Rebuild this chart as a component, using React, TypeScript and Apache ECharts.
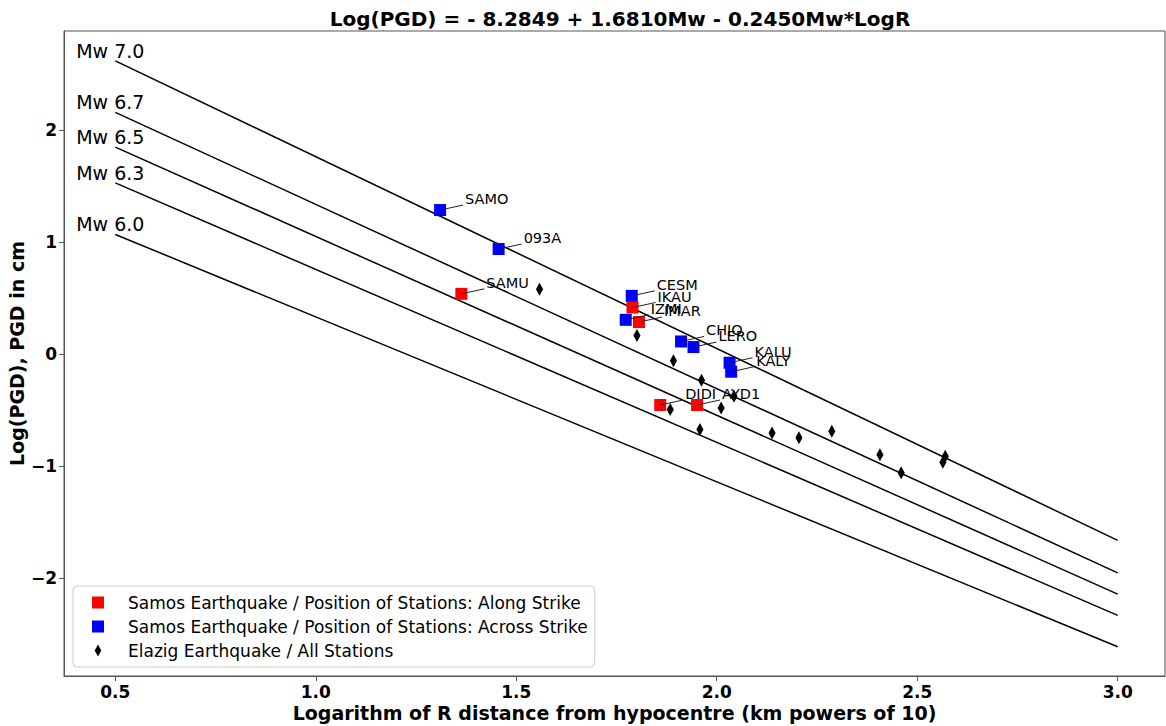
import React, { useEffect, useRef } from 'react';
import * as echarts from 'echarts';

const FONT = '"DejaVu Sans", "Liberation Sans", sans-serif';

const titleText = 'Log(PGD) = - 8.2849 + 1.6810Mw - 0.2450Mw*LogR';
const xAxisName = 'Logarithm of R distance from hypocentre (km powers of 10)';
const yAxisName = 'Log(PGD), PGD in cm';

const xTicks = [0.5, 1.0, 1.5, 2.0, 2.5, 3.0];
const yTicks = [-2, -1, 0, 1, 2];

// Magnitude reference lines: value at logR = 0.5 and at logR = 3.0
const lineX = [0.5, 3.0];
const mwNames = ['Mw 7.0', 'Mw 6.7', 'Mw 6.5', 'Mw 6.3', 'Mw 6.0'];
const mw70 = [2.62, -1.66];
const mw67 = [2.16, -1.95];
const mw65 = [1.85, -2.14];
const mw63 = [1.53, -2.33];
const mw60 = [1.07, -2.61];
const mwLines = [mw70, mw67, mw65, mw63, mw60];

const alongLabel = 'Samos Earthquake / Position of Stations: Along Strike';
const acrossLabel = 'Samos Earthquake / Position of Stations: Across Strike';
const elazigLabel = 'Elazig Earthquake / All Stations';

const alongNames = ['SAMU', 'IKAU', 'IMAR', 'DIDI', 'AYD1'];
const alongX = [1.363, 1.79, 1.806, 1.859, 1.951];
const alongY = [0.54, 0.418, 0.288, -0.452, -0.452];

const acrossNames = ['SAMO', '093A', 'CESM', 'IZMI', 'CHIO', 'LERO', 'KALU', 'KALY'];
const acrossX = [1.31, 1.456, 1.788, 1.773, 1.911, 1.942, 2.032, 2.036];
const acrossY = [1.288, 0.94, 0.522, 0.308, 0.115, 0.065, -0.075, -0.155];

const elazigX = [1.558, 1.801, 1.892, 1.962, 1.884, 2.011, 2.043, 1.958, 2.138, 2.205, 2.287, 2.407, 2.46, 2.57, 2.564];
const elazigY = [0.581, 0.168, -0.057, -0.232, -0.493, -0.478, -0.375, -0.671, -0.701, -0.745, -0.687, -0.897, -1.057, -0.909, -0.963];

const DIAMOND = 'path://M-1,-1M1,1M0,-1L0.55,0L0,1L-0.55,0Z';

export default function App() {
  const ref = useRef<HTMLDivElement>(null);

  useEffect(() => {
    if (!ref.current) return;
    const chart = echarts.init(ref.current, null, { renderer: 'svg' });

    const annNames = [...alongNames, ...acrossNames];
    const annData = [
      ...alongX.map((x, i) => [x, alongY[i]]),
      ...acrossX.map((x, i) => [x, acrossY[i]]),
    ];

    const lineSeries = mwLines.map((v, i) => ({
      type: 'line',
      name: mwNames[i],
      data: [
        [lineX[0], v[0]],
        [lineX[1], v[1]],
      ],
      symbol: 'none',
      silent: true,
      lineStyle: { color: '#000', width: 1.5 },
      z: 2,
    }));

    const option: any = {
      animation: false,
      backgroundColor: '#fff',
      title: {
        text: titleText,
        left: 615,
        top: 4,
        textAlign: 'center',
        textStyle: { fontFamily: FONT, fontWeight: 'bold', fontSize: 20, color: '#000' },
      },
      grid: {
        left: 64,
        top: 31,
        width: 1101,
        height: 645,
        show: true,
        borderColor: '#555',
        borderWidth: 1,
        backgroundColor: 'transparent',
        containLabel: false,
        outerBoundsMode: 'none',
      },
      legend: {
        orient: 'vertical',
        left: 73,
        top: 586,
        selectedMode: false,
        data: [
          { name: alongLabel, icon: 'rect' },
          { name: acrossLabel, icon: 'rect' },
          { name: elazigLabel, icon: DIAMOND },
        ],
        itemWidth: 12,
        itemHeight: 12,
        itemGap: 7,
        padding: [8, 7, 8, 19],
        backgroundColor: 'rgba(255,255,255,0.85)',
        borderColor: '#cccccc',
        borderWidth: 1,
        borderRadius: 4,
        formatter: (n: string) => `{t|${n}}`,
        textStyle: {
          fontFamily: FONT,
          fontSize: 17,
          color: '#000',
          rich: { t: { fontFamily: FONT, fontSize: 17, color: '#000', padding: [0, 0, 0, 19] } },
        },
      },
      xAxis: {
        type: 'value',
        min: 0.372,
        max: 3.118,
        name: xAxisName,
        nameLocation: 'middle',
        nameMoveOverlap: false,
        nameGap: 27,
        nameTextStyle: { fontFamily: FONT, fontWeight: 'bold', fontSize: 19, color: '#000' },
        axisLine: { show: true, onZero: false, lineStyle: { color: '#555', width: 1 } },
        axisTick: { show: true, length: 5, customValues: xTicks, lineStyle: { color: '#555' } },
        axisLabel: {
          customValues: xTicks,
          formatter: (v: number) => v.toFixed(1),
          fontFamily: FONT,
          fontWeight: 'bold',
          fontSize: 17,
          color: '#000',
          margin: 7,
        },
        splitLine: { show: false },
      },
      yAxis: {
        type: 'value',
        min: -2.871,
        max: 2.886,
        name: yAxisName,
        nameLocation: 'middle',
        nameMoveOverlap: false,
        nameGap: 38,
        nameTextStyle: { fontFamily: FONT, fontWeight: 'bold', fontSize: 19, color: '#000' },
        axisLine: { show: true, onZero: false, lineStyle: { color: '#555', width: 1 } },
        axisTick: { show: true, length: 5, customValues: yTicks, lineStyle: { color: '#555' } },
        axisLabel: {
          customValues: yTicks,
          formatter: (v: number) => (v < 0 ? '\u2212' + Math.abs(v) : String(v)),
          fontFamily: FONT,
          fontWeight: 'bold',
          fontSize: 17,
          color: '#000',
          margin: 7,
        },
        splitLine: { show: false },
      },
      series: [
        ...lineSeries,
        {
          type: 'scatter',
          name: 'mwLabels',
          silent: true,
          symbolSize: 1,
          itemStyle: { color: 'rgba(0,0,0,0)', opacity: 1 },
          data: mwLines.map((v, i) => ({ name: mwNames[i], value: [lineX[0], v[0]] })),
          label: {
            show: true,
            position: 'inside',
            offset: [-5, -10],
            formatter: (p: any) => p.name,
            fontFamily: FONT,
            fontSize: 19,
            color: '#000',
            opacity: 1,
          },
          z: 2,
        },
        {
          type: 'scatter',
          name: alongLabel,
          symbol: 'rect',
          symbolSize: 12,
          itemStyle: { color: '#ff0000', opacity: 1 },
          data: alongX.map((x, i) => [x, alongY[i]]),
          z: 3,
        },
        {
          type: 'scatter',
          name: acrossLabel,
          symbol: 'rect',
          symbolSize: 12,
          itemStyle: { color: '#0000ff', opacity: 1 },
          data: acrossX.map((x, i) => [x, acrossY[i]]),
          z: 3,
        },
        {
          type: 'scatter',
          name: elazigLabel,
          symbol: DIAMOND,
          symbolSize: 13,
          itemStyle: { color: '#000', opacity: 1 },
          data: elazigX.map((x, i) => [x, elazigY[i]]),
          z: 3,
        },
        {
          type: 'custom',
          name: 'annotations',
          silent: true,
          coordinateSystem: 'cartesian2d',
          encode: { x: 0, y: 1 },
          data: annData,
          z: 5,
          renderItem: (params: any, api: any) => {
            const p = api.coord([api.value(0), api.value(1)]);
            return {
              type: 'group',
              children: [
                {
                  type: 'line',
                  shape: { x1: p[0], y1: p[1], x2: p[0] + 23, y2: p[1] - 5 },
                  style: { stroke: '#222', lineWidth: 1 },
                },
                {
                  type: 'text',
                  x: p[0] + 25,
                  y: p[1] - 11,
                  style: {
                    text: annNames[params.dataIndex],
                    fill: '#000',
                    font: `14.5px ${FONT}`,
                    align: 'left',
                    verticalAlign: 'middle',
                  },
                },
              ],
            };
          },
        },
      ],
    };

    chart.setOption(option);
    return () => chart.dispose();
  }, []);

  return (
    <div
      ref={ref}
      style={{ position: 'absolute', left: 0, top: 0, width: 1166, height: 726, background: '#fff' }}
    />
  );
}
